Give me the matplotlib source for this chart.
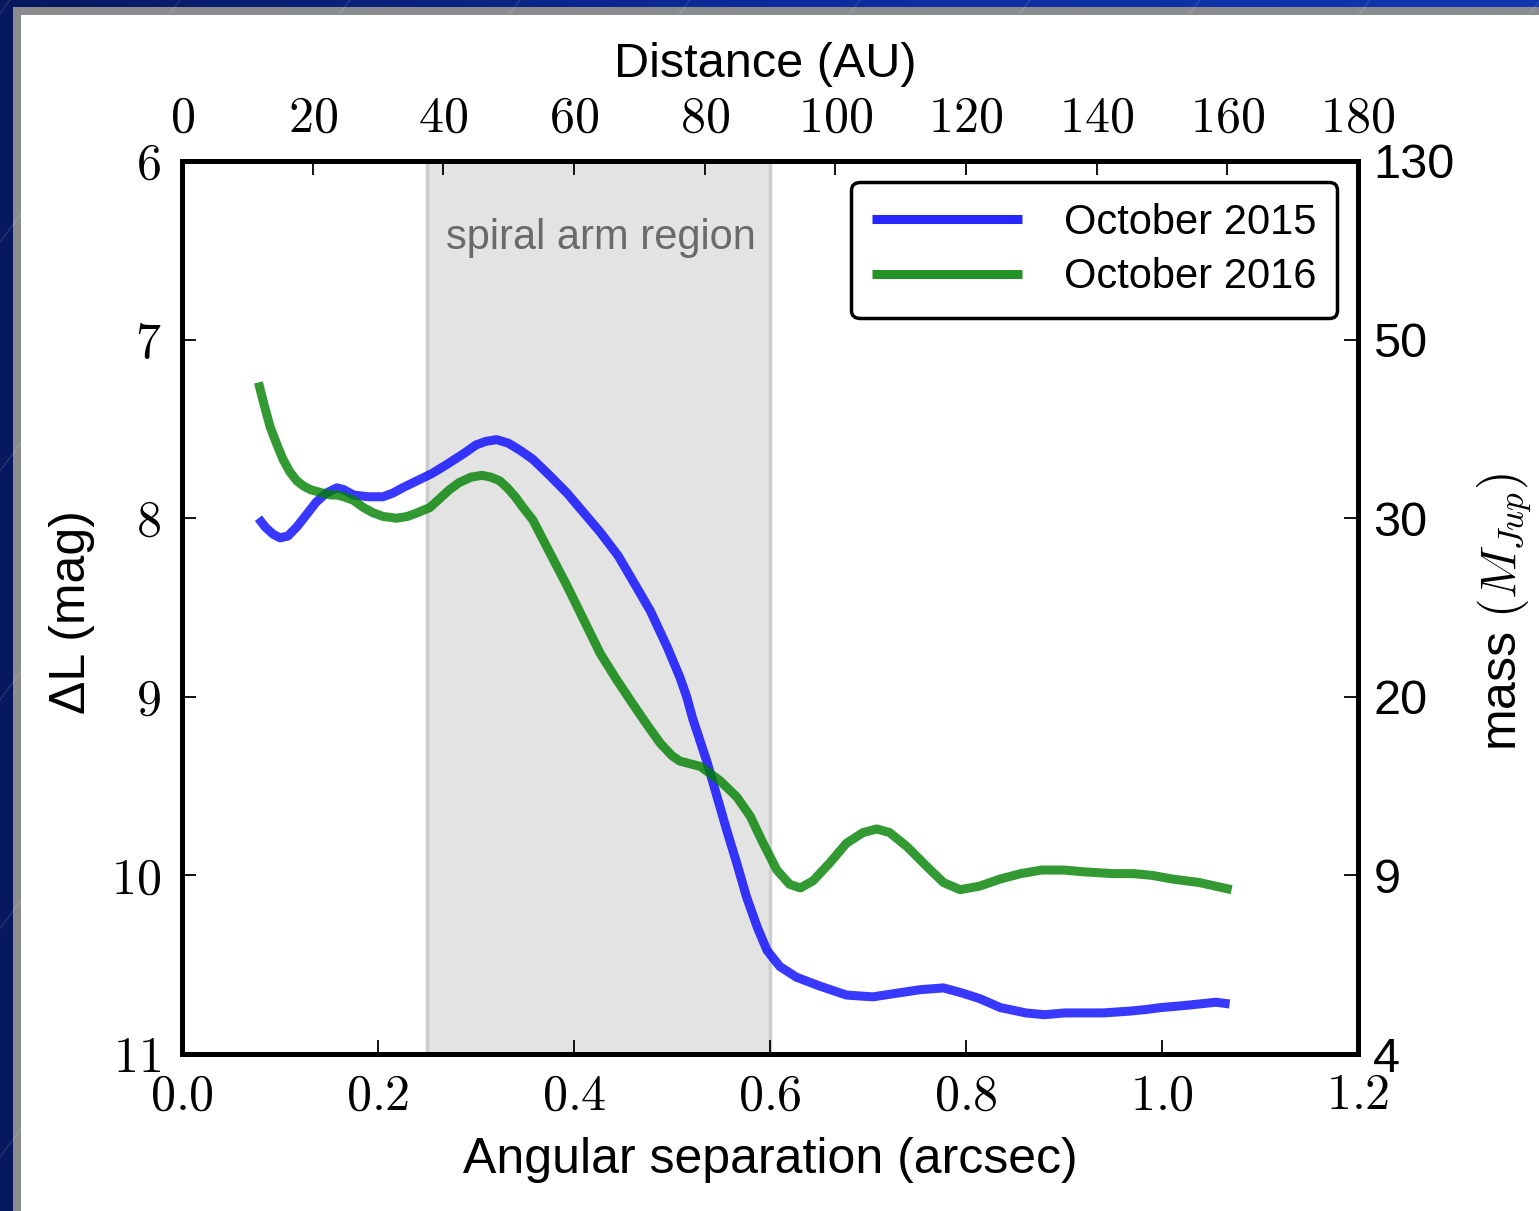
import matplotlib
matplotlib.use("Agg")
import matplotlib.pyplot as plt
import numpy as np
from matplotlib.patches import Rectangle
from matplotlib.colors import LinearSegmentedColormap

plt.rcParams["mathtext.fontset"] = "cm"
plt.rcParams["font.family"] = ["Liberation Sans", "DejaVu Sans"]

# ---- data -------------------------------------------------------------
sep_2015 = [0.078, 0.085, 0.093, 0.100, 0.108, 0.117, 0.127, 0.137, 0.147, 0.158,
            0.165, 0.175, 0.190, 0.205, 0.215, 0.225, 0.240, 0.255, 0.270, 0.287,
            0.300, 0.310, 0.321, 0.333, 0.345, 0.358, 0.375, 0.393, 0.410, 0.427,
            0.445, 0.460, 0.478, 0.495, 0.508, 0.515, 0.521, 0.536, 0.546, 0.556,
            0.566, 0.576, 0.587, 0.597, 0.610, 0.627, 0.651, 0.678, 0.705, 0.729,
            0.753, 0.777, 0.797, 0.814, 0.835, 0.861, 0.880, 0.901, 0.920, 0.940,
            0.967, 0.985, 0.999, 1.020, 1.038, 1.055, 1.069]
dl_2015 = [8.00, 8.05, 8.09, 8.11, 8.10, 8.05, 7.98, 7.91, 7.86, 7.83,
           7.84, 7.87, 7.88, 7.88, 7.86, 7.83, 7.79, 7.75, 7.70, 7.64,
           7.59, 7.57, 7.56, 7.58, 7.62, 7.67, 7.76, 7.86, 7.97, 8.08,
           8.21, 8.35, 8.52, 8.72, 8.89, 9.00, 9.12, 9.37, 9.56, 9.75,
           9.93, 10.12, 10.29, 10.42, 10.51, 10.57, 10.62, 10.67, 10.68, 10.66,
           10.64, 10.63, 10.66, 10.69, 10.74, 10.77, 10.78, 10.77, 10.77, 10.77,
           10.76, 10.75, 10.74, 10.73, 10.72, 10.71, 10.72]

sep_2016 = [0.078, 0.084, 0.090, 0.097, 0.103, 0.110, 0.117, 0.124, 0.131, 0.144,
            0.152, 0.158, 0.165, 0.175, 0.185, 0.195, 0.205, 0.219, 0.230, 0.240,
            0.253, 0.263, 0.273, 0.283, 0.295, 0.306, 0.315, 0.324, 0.332, 0.340,
            0.348, 0.358, 0.375, 0.393, 0.410, 0.427, 0.443, 0.460, 0.475, 0.488,
            0.500, 0.508, 0.529, 0.549, 0.566, 0.580, 0.593, 0.607, 0.620, 0.631,
            0.644, 0.661, 0.678, 0.695, 0.709, 0.722, 0.740, 0.760, 0.777, 0.794,
            0.814, 0.835, 0.856, 0.877, 0.900, 0.920, 0.950, 0.971, 0.990, 1.010,
            1.038, 1.071]
dl_2016 = [7.24, 7.37, 7.49, 7.59, 7.67, 7.74, 7.79, 7.82, 7.84, 7.86,
           7.87, 7.87, 7.88, 7.90, 7.94, 7.97, 7.99, 8.00, 7.99, 7.97,
           7.94, 7.89, 7.84, 7.80, 7.77, 7.76, 7.77, 7.79, 7.83, 7.88,
           7.94, 8.01, 8.19, 8.38, 8.57, 8.76, 8.90, 9.04, 9.16, 9.26,
           9.33, 9.36, 9.39, 9.47, 9.56, 9.67, 9.82, 9.97, 10.05, 10.07,
           10.03, 9.93, 9.82, 9.76, 9.74, 9.76, 9.84, 9.95, 10.04, 10.08,
           10.06, 10.02, 9.99, 9.97, 9.97, 9.98, 9.99, 9.99, 10.00, 10.02,
           10.04, 10.08]

series_labels = ["October 2015", "October 2016"]
spiral_region = (0.25, 0.6)

sep_ticks = [0.0, 0.2, 0.4, 0.6, 0.8, 1.0, 1.2]
au_ticks = [0, 20, 40, 60, 80, 100, 120, 140, 160, 180]
dl_ticks = [6, 7, 8, 9, 10, 11]
mass_labels = ["130", "50", "30", "20", "9", "4"]

# ---- figure and slide backdrop -----------------------------------------
W, H = 1539, 1211
fig = plt.figure(figsize=(W / 100, H / 100), dpi=100)

bg = fig.add_axes([0, 0, 1, 1], zorder=-10)
bg.set_xlim(0, W)
bg.set_ylim(H, 0)
bg.axis("off")
slide_cmap = LinearSegmentedColormap.from_list("slide", ["#08185e", "#0d2b9c", "#1336b0"])
grad = np.linspace(0, 1, 256)[None, :]
bg.imshow(grad, cmap=slide_cmap, extent=[0, W, H, 0], aspect="auto")
for off in range(-1400, 1600, 170):
    bg.plot([off, off + 900], [H, 0], color="white", alpha=0.12, lw=1)
bg.add_patch(Rectangle((13, 7), W, H, facecolor="#8a8c8e", edgecolor="none"))
bg.add_patch(Rectangle((21, 15), W, H, facecolor="white", edgecolor="none"))

# ---- main axes ---------------------------------------------------------
ax = fig.add_axes([182 / W, 157 / H, 1176 / W, 893 / H])
ax.set_facecolor("none")

ax.axvspan(*spiral_region, facecolor="#e3e3e3", edgecolor="#cdcdcd", lw=2.5, zorder=0)
ax.text(sum(spiral_region) / 2 + 0.0026, 6.43, "spiral arm region", fontsize=30,
        color="#6a6a6a", ha="center", va="center")

line_kw = dict(lw=6.5, solid_capstyle="butt", solid_joinstyle="round")
ax.plot(sep_2015, dl_2015, color="blue", alpha=0.78, label=series_labels[0], **line_kw)
ax.plot(sep_2016, dl_2016, color="green", alpha=0.8, label=series_labels[1], **line_kw)

ax.set_xlim(0, 1.2)
ax.set_ylim(11, 6)
ax.set_xticks(sep_ticks)
ax.set_xticklabels([f"${v:.1f}$" for v in sep_ticks])
ax.set_yticks(dl_ticks)
ax.set_yticklabels([f"${v}$" for v in dl_ticks])
ax.tick_params(axis="x", direction="in", length=10, width=1.3, labelsize=36, pad=14)
ax.tick_params(axis="y", direction="in", length=10, width=1.3, labelsize=36, pad=15)

# top axis: distance in AU
axt = ax.twiny()
axt.set_xlim(0, 180)
axt.set_xticks(au_ticks)
axt.set_xticklabels([f"${v}$" for v in au_ticks])
axt.tick_params(axis="x", direction="in", length=10, width=1.3, labelsize=36, pad=14)

# right axis: mass
axr = ax.twinx()
axr.set_ylim(11, 6)
axr.set_yticks(dl_ticks)
axr.set_yticklabels(mass_labels)
axr.tick_params(axis="y", direction="in", length=10, width=1.3, labelsize=35, pad=11)

for a in (ax, axt, axr):
    for s in a.spines.values():
        s.set_linewidth(3.5)

ax.set_xlabel("Angular separation (arcsec)", fontsize=36)
ax.xaxis.set_label_coords(0.5, -0.1187)
ax.xaxis.label.set_va("center")
axt.set_xlabel("Distance (AU)", fontsize=35)
axt.xaxis.set_label_coords(0.4957, 1.108)
axt.xaxis.label.set_va("center")
ax.set_ylabel("ΔL (mag)", fontsize=36)
ax.yaxis.set_label_coords(-0.0935, 0.495)
ax.yaxis.label.set_va("center")
axr.set_ylabel(r"mass $(M_{Jup})$", fontsize=36)
axr.yaxis.set_label_coords(1.125, 0.495)
axr.yaxis.label.set_va("center")

leg = ax.legend(loc="upper right", fontsize=30, handlelength=3.6, handletextpad=1.0,
                borderpad=0.5, labelspacing=0.35, fancybox=True, framealpha=1,
                edgecolor="black")
leg.get_frame().set_linewidth(2.5)
for h in leg.get_lines():
    h.set_alpha(0.85)
leg.set_zorder(5)

fig.savefig("out.png", dpi=100)
